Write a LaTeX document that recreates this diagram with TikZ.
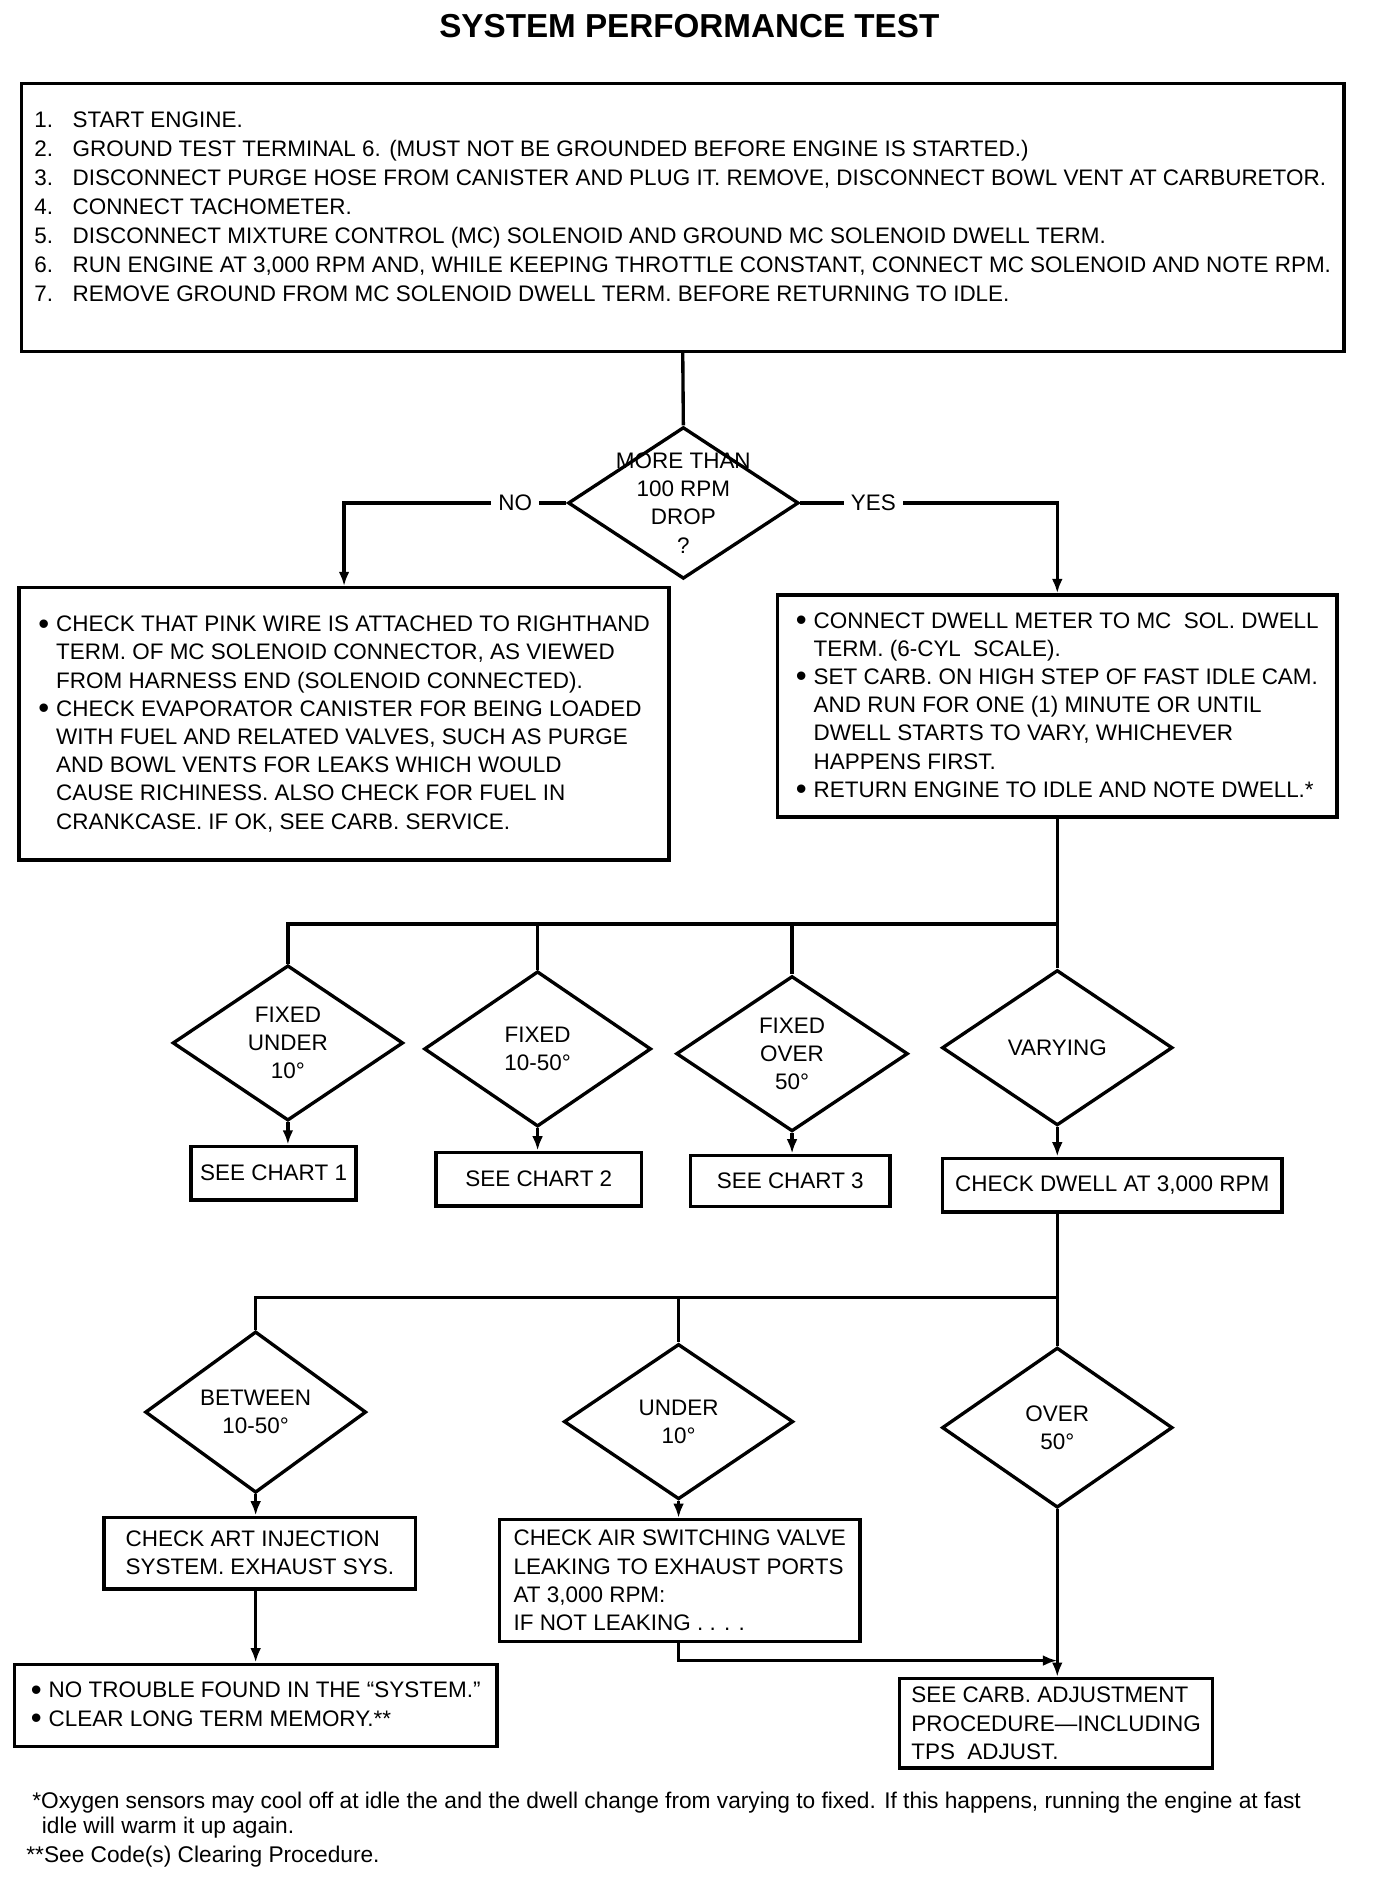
\documentclass[tikz,border=0pt]{standalone}
\usepackage{fontspec}
\setmainfont{Liberation Sans}
\usetikzlibrary{shapes.geometric, arrows.meta, positioning}

\newcommand{\stepno}[1]{\makebox[16pt][l]{#1}}
\newcommand{\bul}{\makebox[7.5pt][l]{\raisebox{-1pt}{\fontsize{13}{12}\selectfont\textbullet}}}
\newcommand{\cont}{\hspace*{7.5pt}}

\begin{document}
\begin{tikzpicture}[
    x=0.5pt, y=-0.5pt,
    every node/.style={font=\fontsize{9.4}{11.8}\selectfont},
    block/.style={rectangle, draw, line width=1.4pt, align=left, inner sep=0pt},
    decision/.style={diamond, draw, line width=1.4pt, inner sep=0pt},
    arrow/.style={line width=1.4pt,-{Latex[length=6pt,width=4.5pt]}},
    line/.style={line width=1.4pt,-},
    answer/.style={fill=white, inner sep=3pt},
    footnote/.style={anchor=base west, font=\fontsize{9.5}{11}\selectfont}
]
\useasboundingbox (0,0) rectangle (1152,1572);

% Title

\node[font=\bfseries\fontsize{13.9}{16}\selectfont] (title) at (577,22) {SYSTEM PERFORMANCE TEST};

% Test steps

\node[block, minimum width=553.5pt, minimum height=112pt, text depth=9pt, font=\fontsize{9.4}{12.1}\selectfont] (steps) at (571.5,182) {%
\stepno{1.}START ENGINE.\\
\stepno{2.}GROUND TEST TERMINAL 6. (MUST NOT BE GROUNDED BEFORE ENGINE IS STARTED.)\\
\stepno{3.}DISCONNECT PURGE HOSE FROM CANISTER AND PLUG IT. REMOVE, DISCONNECT BOWL VENT AT CARBURETOR.\\
\stepno{4.}CONNECT TACHOMETER.\\
\stepno{5.}DISCONNECT MIXTURE CONTROL (MC) SOLENOID AND GROUND MC SOLENOID DWELL TERM.\\
\stepno{6.}RUN ENGINE AT 3,000 RPM AND, WHILE KEEPING THROTTLE CONSTANT, CONNECT MC SOLENOID AND NOTE RPM.\\
\stepno{7.}REMOVE GROUND FROM MC SOLENOID DWELL TERM. BEFORE RETURNING TO IDLE.};

\node[decision, minimum width=96.5pt, minimum height=63.5pt, label={[align=center]center:MORE THAN\\100 RPM\\DROP\\?}] (drop) at (572,421) {};

\draw[line] (steps.south) -- (drop.north);

% No drop

\node[block, minimum width=272pt, minimum height=114pt] (nocheck) at (288,606) {%
\bul CHECK THAT PINK WIRE IS ATTACHED TO RIGHTHAND\\
\cont TERM. OF MC SOLENOID CONNECTOR, AS VIEWED\\
\cont FROM HARNESS END (SOLENOID CONNECTED).\\
\bul CHECK EVAPORATOR CANISTER FOR BEING LOADED\\
\cont WITH FUEL AND RELATED VALVES, SUCH AS PURGE\\
\cont AND BOWL VENTS FOR LEAKS WHICH WOULD\\
\cont CAUSE RICHINESS. ALSO CHECK FOR FUEL IN\\
\cont CRANKCASE. IF OK, SEE CARB. SERVICE.};

% Drop: dwell check

\node[block, minimum width=234pt, minimum height=93pt] (dwellmeter) at (885,591) {%
\bul CONNECT DWELL METER TO MC\ \ SOL. DWELL\\
\cont TERM. (6-CYL\ \ SCALE).\\
\bul SET CARB. ON HIGH STEP OF FAST IDLE CAM.\\
\cont AND RUN FOR ONE (1) MINUTE OR UNTIL\\
\cont DWELL STARTS TO VARY, WHICHEVER\\
\cont HAPPENS FIRST.\\
\bul RETURN ENGINE TO IDLE AND NOTE DWELL.*};

\draw[arrow] (drop.west) -| node[answer, pos=0.115] {NO} (nocheck.north);
\draw[arrow] (drop.east) -| node[answer, pos=0.142] {YES} (dwellmeter.north);

% Dwell at idle

\node[decision, minimum width=96.5pt, minimum height=65pt, label={[align=center]center:FIXED\\UNDER\\10°}] (fixunder) at (241,873) {};
\node[decision, minimum width=95pt, minimum height=65pt, label={[align=center]center:FIXED\\10-50°}] (fixmid) at (450,878) {};
\node[decision, minimum width=97pt, minimum height=65pt, label={[align=center]center:FIXED\\OVER\\50°}] (fixover) at (663,882) {};
\node[decision, minimum width=96.5pt, minimum height=65pt, label={center:VARYING}] (varying) at (885,877) {};

\draw[line] (dwellmeter.south) -- ++(0,88) coordinate (split1);
\draw[line] (split1) -| (fixunder.north);
\foreach \d in {fixmid, fixover, varying}
    \draw[line] (split1 -| \d.north) -- (\d.north);

\node[block, minimum width=69pt, minimum height=22.5pt] (chart1) at (229,982) {SEE CHART 1};
\node[block, minimum width=86pt, minimum height=22.5pt] (chart2) at (451,987) {SEE CHART 2};
\node[block, minimum width=83.5pt, minimum height=21.5pt] (chart3) at (661.5,988.5) {SEE CHART 3};
\node[block, minimum width=142pt, minimum height=22.5pt] (dwellrpm) at (931,992) {CHECK DWELL AT 3,000 RPM};

\draw[arrow] (fixunder.south) -- (fixunder.south |- chart1.north);
\draw[arrow] (fixmid.south) -- (fixmid.south |- chart2.north);
\draw[arrow] (fixover.south) -- (fixover.south |- chart3.north);
\draw[arrow] (varying.south) -- (varying.south |- dwellrpm.north);

% Dwell at 3,000 RPM

\node[decision, minimum width=92.5pt, minimum height=67.5pt, label={[align=center]center:BETWEEN\\10-50°}] (between) at (214,1182) {};
\node[decision, minimum width=96pt, minimum height=65pt, label={[align=center]center:UNDER\\10°}] (under) at (568,1190) {};
\node[decision, minimum width=96.5pt, minimum height=67pt, label={[align=center]center:OVER\\50°}] (over) at (885,1195) {};

\draw[line] (varying.south |- dwellrpm.south) -- ++(0,70) coordinate (split2);
\draw[line] (split2) -| (between.north);
\draw[line] (split2 -| under.north) -- (under.north);
\draw[line] (split2) -- (over.north);

\node[block, minimum width=130.5pt, minimum height=30pt] (airinj) at (217.5,1300) {%
CHECK ART INJECTION\\
SYSTEM. EXHAUST SYS.};
\node[block, minimum width=202pt, minimum height=34.5pt] (notrouble) at (214,1427.5) {%
\bul NO TROUBLE FOUND IN THE “SYSTEM.”\\
\bul CLEAR LONG TERM MEMORY.**};
\node[block, minimum width=151pt, minimum height=51pt] (airvalve) at (569,1323) {%
CHECK AIR SWITCHING VALVE\\
LEAKING TO EXHAUST PORTS\\
AT 3,000 RPM:\\
IF NOT LEAKING . . . .};
\node[block, minimum width=131pt, minimum height=37.5pt] (carb) at (884,1442.5) {%
SEE CARB. ADJUSTMENT\\
PROCEDURE—INCLUDING\\
TPS\ \ ADJUST.};
\coordinate (merge) at (885,1390);

\draw[arrow] (between.south) -- (between.south |- airinj.north);
\draw[arrow] (between.south |- airinj.south) -- (between.south |- notrouble.north);
\draw[arrow] (under.south) -- (under.south |- airvalve.north);
\draw[arrow] (under.south |- airvalve.south) |- (merge);
\draw[arrow] (over.south) -- (over.south |- carb.north);

% Footnotes

\node[footnote] (note1) at (20,1514) {*Oxygen sensors may cool off at idle the and the dwell change from varying to fixed. If this happens, running the engine at fast};
\node[footnote] (note2) at (28,1535) {idle will warm it up again.};
\node[footnote] (note3) at (15,1559) {**See Code(s) Clearing Procedure.};

\end{tikzpicture}
\end{document}
